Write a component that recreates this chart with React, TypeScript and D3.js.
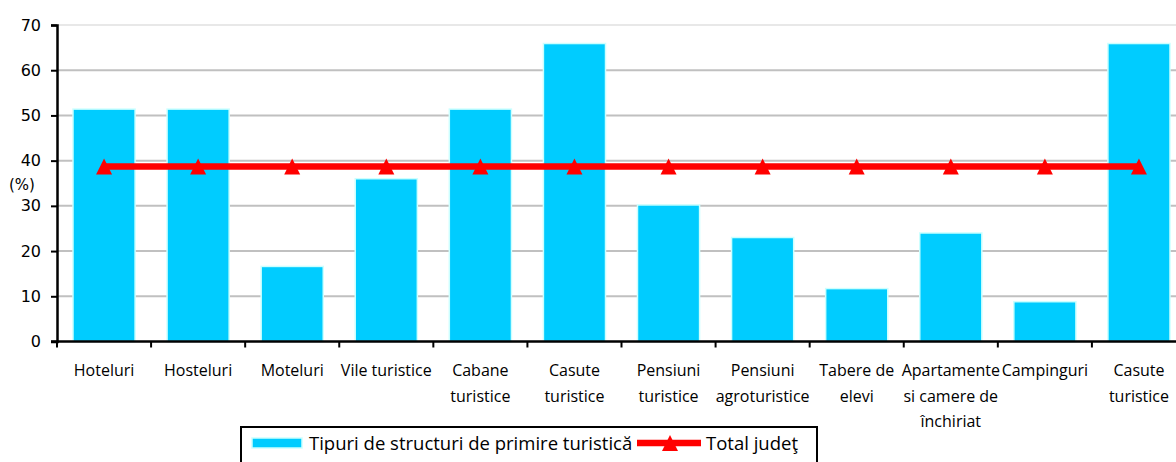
import { useEffect, useRef } from 'react';
import * as d3 from 'd3';

const WIDTH = 1176;
const HEIGHT = 462;

// categories (line breaks as in the original axis)
const categories = [
  'Hoteluri',
  'Hosteluri',
  'Moteluri',
  'Vile turistice',
  'Cabane\nturistice',
  'Casute\nturistice',
  'Pensiuni\nturistice',
  'Pensiuni\nagroturistice',
  'Tabere de\nelevi',
  'Apartamente\nsi camere de\nînchiriat',
  'Campinguri',
  'Casute\nturistice',
];

// bar series: Tipuri de structuri de primire turistică
const structValues = [51.4, 51.4, 16.6, 36.0, 51.4, 65.9, 30.2, 23.0, 11.7, 24.0, 8.8, 65.9];

// line series: Total judeţ
const totalValues = [38.7, 38.7, 38.7, 38.7, 38.7, 38.7, 38.7, 38.7, 38.7, 38.7, 38.7, 38.7];

const yTicks = [0, 10, 20, 30, 40, 50, 60, 70];

const seriesNames = ['Tipuri de structuri de primire turistică', 'Total judeţ'];

const BAR_COLOR = '#00CCFF';
const BAR_EDGE = '#CCFFFF';
const LINE_COLOR = '#FF0000';
const LABEL_FONT = '"Open Sans", sans-serif';

// triangle marker, bounding box centred on the point
const triangle = (w: number, h: number) => `M0,${-h / 2}L${w / 2},${h / 2}L${-w / 2},${h / 2}Z`;

export default function App() {
  const ref = useRef<SVGSVGElement>(null);

  useEffect(() => {
    const svg = d3.select(ref.current);
    svg.selectAll('*').remove();

    const left = 57;
    const right = 1186; // plot runs past the picture edge
    const top = 25;
    const bottom = 341.5;

    const x = d3.scaleBand().domain(categories.map((_, i) => String(i))).range([left, right]).paddingInner(0.34).paddingOuter(0.17);
    const xc = (i: number) => (x(String(i)) as number) + x.bandwidth() / 2;
    const y = d3.scaleLinear().domain([0, 70]).range([bottom, top]);

    // gridlines
    svg
      .append('g')
      .selectAll('line')
      .data(yTicks.filter((t) => t > 0))
      .enter()
      .append('line')
      .attr('x1', left)
      .attr('x2', WIDTH)
      .attr('y1', (d) => y(d))
      .attr('y2', (d) => y(d))
      .attr('stroke', (d) => (d === 70 ? '#e8e8e8' : '#c0c0c0'))
      .attr('stroke-width', 2);

    // bars
    svg
      .append('g')
      .selectAll('rect')
      .data(structValues)
      .enter()
      .append('rect')
      .attr('x', (_d, i) => x(String(i)) as number)
      .attr('y', (d) => y(d))
      .attr('width', x.bandwidth())
      .attr('height', (d) => bottom - y(d))
      .attr('fill', BAR_COLOR)
      .attr('stroke', BAR_EDGE)
      .attr('stroke-width', 1.5);

    // y axis
    const yAxis = svg
      .append('g')
      .attr('transform', `translate(${left},0)`)
      .call(d3.axisLeft(y).tickValues(yTicks).tickSize(6).tickPadding(10).tickFormat(d3.format('d')));
    yAxis.select('.domain').attr('stroke', '#000').attr('stroke-width', 2.5);
    yAxis.selectAll('.tick line').attr('stroke', '#000').attr('stroke-width', 2);
    yAxis
      .selectAll('.tick text')
      .attr('fill', '#000')
      .style('font-family', '"DejaVu Sans", sans-serif')
      .style('font-size', '16px');

    svg
      .append('text')
      .attr('x', 22)
      .attr('y', 190)
      .attr('text-anchor', 'middle')
      .style('font-family', '"DejaVu Sans", sans-serif')
      .style('font-size', '15px')
      .text('(%)');

    // x axis
    const xAxisG = svg.append('g');
    xAxisG
      .append('line')
      .attr('x1', left - 6)
      .attr('x2', WIDTH)
      .attr('y1', bottom)
      .attr('y2', bottom)
      .attr('stroke', '#000')
      .attr('stroke-width', 2.5);
    const step = x.step();
    xAxisG
      .selectAll('line.tk')
      .data(d3.range(categories.length + 1))
      .enter()
      .append('line')
      .attr('class', 'tk')
      .attr('x1', (i) => left + i * step)
      .attr('x2', (i) => left + i * step)
      .attr('y1', bottom)
      .attr('y2', bottom + 6)
      .attr('stroke', '#000')
      .attr('stroke-width', 2);

    const labels = xAxisG
      .selectAll('text')
      .data(categories)
      .enter()
      .append('text')
      .attr('text-anchor', 'middle')
      .attr('fill', '#000')
      .style('font-family', LABEL_FONT)
      .style('font-size', '16px');
    labels.each(function (d, i) {
      const t = d3.select(this);
      d.split('\n').forEach((line, k) => {
        t.append('tspan')
          .attr('x', xc(i))
          .attr('y', 376 + k * 25.5)
          .text(line);
      });
    });

    // line series
    const line = d3
      .line<number>()
      .x((_d, i) => xc(i))
      .y((d) => y(d));
    svg
      .append('path')
      .datum(totalValues)
      .attr('fill', 'none')
      .attr('stroke', LINE_COLOR)
      .attr('stroke-width', 6.5)
      .attr('d', line);

    svg
      .append('g')
      .selectAll('path')
      .data(totalValues)
      .enter()
      .append('path')
      .attr('transform', (d, i) => `translate(${xc(i)},${y(d)})`)
      .attr('d', triangle(16, 16))
      .attr('fill', LINE_COLOR);

    // legend
    const lg = svg.append('g');
    lg.append('rect')
      .attr('x', 241)
      .attr('y', 427)
      .attr('width', 576)
      .attr('height', 50)
      .attr('fill', '#fff')
      .attr('stroke', '#000')
      .attr('stroke-width', 2);
    lg.append('rect')
      .attr('x', 252)
      .attr('y', 438)
      .attr('width', 50)
      .attr('height', 10)
      .attr('fill', BAR_COLOR)
      .attr('stroke', BAR_EDGE)
      .attr('stroke-width', 1.5);
    lg.append('text')
      .attr('x', 309)
      .attr('y', 450)
      .style('font-family', LABEL_FONT)
      .style('font-size', '18.5px')
      .text(seriesNames[0]);
    lg.append('line')
      .attr('x1', 637)
      .attr('x2', 701)
      .attr('y1', 443)
      .attr('y2', 443)
      .attr('stroke', LINE_COLOR)
      .attr('stroke-width', 6.5);
    lg.append('path')
      .attr('transform', 'translate(670,443)')
      .attr('d', triangle(16, 16))
      .attr('fill', LINE_COLOR);
    lg.append('text')
      .attr('x', 706)
      .attr('y', 450)
      .style('font-family', LABEL_FONT)
      .style('font-size', '18.5px')
      .text(seriesNames[1]);
  }, []);

  return (
    <div style={{ position: 'fixed', left: 0, top: 0, width: WIDTH, height: HEIGHT, overflow: 'hidden', background: '#fff' }}>
      <svg ref={ref} width={WIDTH} height={HEIGHT} style={{ display: 'block' }} />
    </div>
  );
}
